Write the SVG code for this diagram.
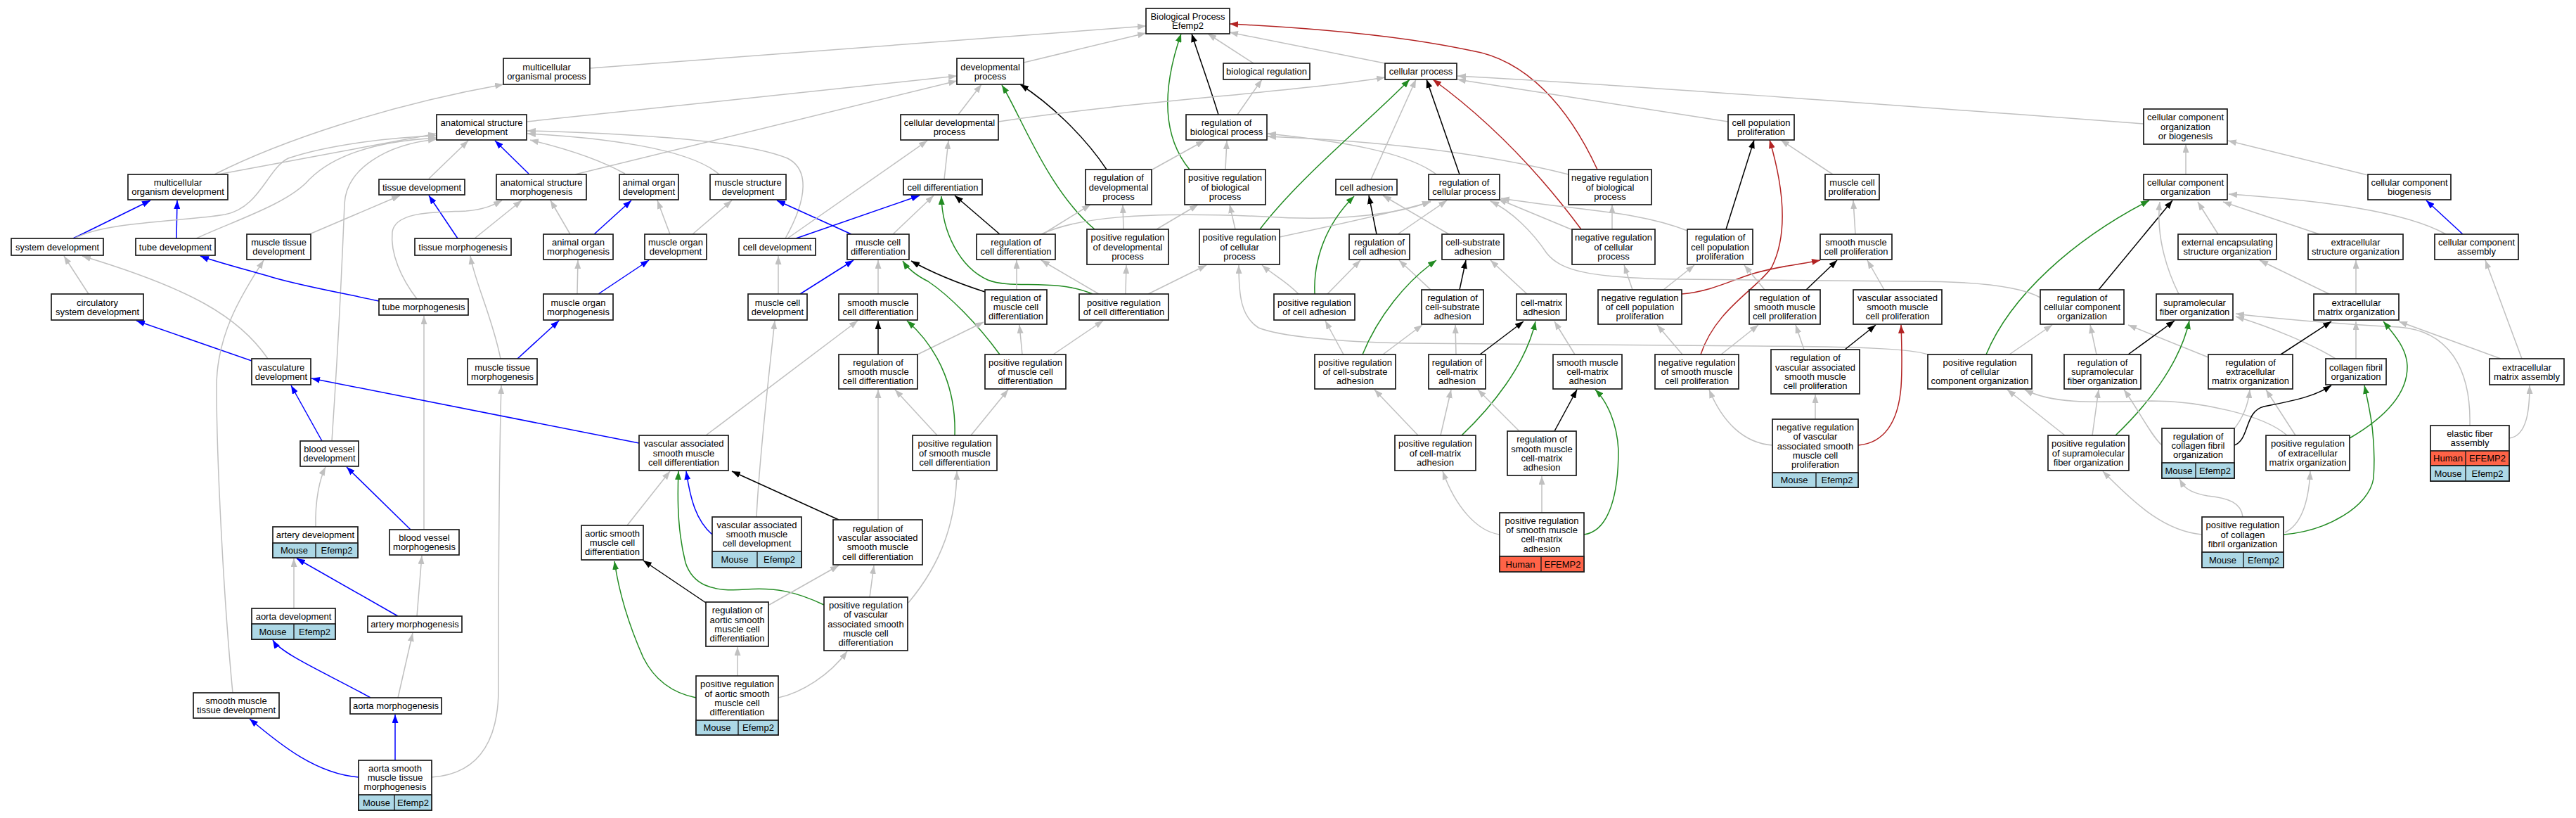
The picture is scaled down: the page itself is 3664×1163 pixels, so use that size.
<svg xmlns="http://www.w3.org/2000/svg" width="3664" height="1163" viewBox="0 0 3664 1163">
<defs>
<style>
.n rect{fill:#fff;stroke:#1a1a1a;stroke-width:1.7}
.n rect.m{fill:#add8e6}
.n rect.h{fill:#ff6347}
.n line{stroke:#1a1a1a;stroke-width:1.4}
text{font-family:"Liberation Sans",Arial,Helvetica,sans-serif;font-size:13px;text-anchor:middle;fill:#000}
#edges path{fill:none;stroke-width:1.5}
#edges .g{stroke:#c0c0c0;marker-end:url(#ag)}
#edges .b{stroke:#0000ff;marker-end:url(#ab)}
#edges .k{stroke:#000;marker-end:url(#ak)}
#edges .v{stroke:#228b22;marker-end:url(#av)}
#edges .r{stroke:#b22222;marker-end:url(#ar)}
</style>
<marker id="ag" viewBox="0 0 12 9" refX="12" refY="4.5" markerWidth="12" markerHeight="9" markerUnits="userSpaceOnUse" orient="auto"><path d="M0,0L12,4.5L0,9z" fill="#c0c0c0"/></marker>
<marker id="ab" viewBox="0 0 12 9" refX="12" refY="4.5" markerWidth="12" markerHeight="9" markerUnits="userSpaceOnUse" orient="auto"><path d="M0,0L12,4.5L0,9z" fill="#0000ff"/></marker>
<marker id="ak" viewBox="0 0 12 9" refX="12" refY="4.5" markerWidth="12" markerHeight="9" markerUnits="userSpaceOnUse" orient="auto"><path d="M0,0L12,4.5L0,9z" fill="#000"/></marker>
<marker id="av" viewBox="0 0 12 9" refX="12" refY="4.5" markerWidth="12" markerHeight="9" markerUnits="userSpaceOnUse" orient="auto"><path d="M0,0L12,4.5L0,9z" fill="#228b22"/></marker>
<marker id="ar" viewBox="0 0 12 9" refX="12" refY="4.5" markerWidth="12" markerHeight="9" markerUnits="userSpaceOnUse" orient="auto"><path d="M0,0L12,4.5L0,9z" fill="#b22222"/></marker>
</defs>
<rect width="3664" height="1163" fill="#fff"/>
<g id="edges">
<path class="g" d="M839,97 L1630,37"/>
<path class="g" d="M1456,89 L1630,47"/>
<path class="g" d="M1783,90 L1718,48"/>
<path class="k" d="M1733,163 C1720,120 1705,80 1695,48"/>
<path class="v" d="M1692,241 C1650,190 1655,120 1680,48"/>
<path class="r" d="M2272,241 C2230,150 2170,85 2093,72 C2000,52 1870,40 1749,34"/>
<path class="g" d="M1970,90 L1749,46"/>
<path class="g" d="M749,173 L1361,108"/>
<path class="g" d="M818,248 L1361,115"/>
<path class="g" d="M1363,163 L1396,120"/>
<path class="k" d="M1574,241 C1540,190 1490,145 1451,120"/>
<path class="v" d="M1557,326 C1490,270 1450,160 1425,121"/>
<path class="g" d="M1760,163 L1795,113"/>
<path class="g" d="M1420,173 C1600,145 1850,130 1970,110"/>
<path class="g" d="M2043,248 C2000,215 1900,200 1803,190"/>
<path class="g" d="M2231,248 C2100,215 1950,200 1803,194"/>
<path class="v" d="M1792,326 C1850,250 1950,170 2005,113"/>
<path class="g" d="M1950,255 L2014,113"/>
<path class="k" d="M2076,248 L2029,113"/>
<path class="r" d="M2249,326 C2200,260 2130,180 2038,113"/>
<path class="g" d="M3049,176 C2700,150 2300,120 2073,108"/>
<path class="g" d="M2458,173 L2073,113"/>
<path class="g" d="M3109,248 L3109,205"/>
<path class="g" d="M3368,249 L3169,200"/>
<path class="k" d="M2455,326 L2495,199"/>
<path class="r" d="M2419,504 C2440,440 2500,410 2520,380 C2545,330 2535,260 2517,199"/>
<path class="r" d="M2392,418 C2430,415 2460,400 2490,390 C2530,378 2560,376 2589,370"/>
<path class="g" d="M2607,248 L2533,199"/>
<path class="v" d="M2825,504 C2860,420 2950,340 3057,285"/>
<path class="k" d="M2985,412 L3090,285"/>
<path class="g" d="M3099,418 C3085,390 3066,340 3072,287"/>
<path class="g" d="M3155,333 L3126,287"/>
<path class="g" d="M3299,333 L3162,287"/>
<path class="g" d="M3479,333 C3420,300 3300,285 3170,276"/>
<path class="b" d="M3503,333 L3451,285"/>
<path class="g" d="M3313,418 L3214,370"/>
<path class="g" d="M3351,418 L3351,370"/>
<path class="g" d="M3587,510 L3535,370"/>
<path class="b" d="M104,339 L214,285"/>
<path class="b" d="M251,339 L252,285"/>
<path class="g" d="M305,248 C400,200 550,150 716,120"/>
<path class="g" d="M310,248 L621,190"/>
<path class="g" d="M106,339 C150,315 260,315 320,305 C370,295 380,240 410,225 C470,205 560,195 621,193"/>
<path class="g" d="M279,339 C330,315 410,290 440,255 C480,215 550,200 621,196"/>
<path class="g" d="M472,627 C482,480 488,340 490,290 C492,240 550,205 621,198"/>
<path class="g" d="M610,254 L666,200"/>
<path class="b" d="M752,247 L704,200"/>
<path class="g" d="M889,247 C850,225 800,210 754,199"/>
<path class="g" d="M1023,248 C980,210 850,195 750,190"/>
<path class="g" d="M1117,339 C1150,280 1150,240 1120,225 C1060,200 900,190 750,186"/>
<path class="b" d="M651,339 L610,278"/>
<path class="g" d="M440,333 L569,278"/>
<path class="g" d="M675,339 L742,285"/>
<path class="g" d="M811,333 L783,285"/>
<path class="g" d="M593,425 C570,395 555,360 558,330 C562,300 620,302 663,300 C690,298 705,290 714,285"/>
<path class="b" d="M845,333 L898,285"/>
<path class="g" d="M953,333 L935,285"/>
<path class="g" d="M985,333 L1041,285"/>
<path class="b" d="M1211,333 L1105,285"/>
<path class="b" d="M1132,339 L1308,278"/>
<path class="g" d="M1120,339 L1319,200"/>
<path class="g" d="M1270,333 L1328,278"/>
<path class="g" d="M1343,255 L1349,200"/>
<path class="k" d="M1422,333 L1358,278"/>
<path class="v" d="M1554,418 C1500,395 1440,412 1405,398 C1365,380 1340,330 1339,279"/>
<path class="g" d="M1481,333 C1530,310 1620,300 1800,308 C1900,315 1990,305 2035,286"/>
<path class="g" d="M1483,333 L1551,291"/>
<path class="g" d="M1598,326 L1597,291"/>
<path class="g" d="M1645,326 L1704,291"/>
<path class="g" d="M1757,326 L1749,291"/>
<path class="g" d="M1639,241 L1713,200"/>
<path class="g" d="M1743,241 L1745,200"/>
<path class="k" d="M1958,333 L1947,278"/>
<path class="v" d="M1870,418 C1868,370 1885,320 1926,279"/>
<path class="g" d="M2061,333 L1967,278"/>
<path class="g" d="M1988,333 L2058,285"/>
<path class="g" d="M1820,337 C1900,320 1990,300 2035,287"/>
<path class="g" d="M2237,327 L2131,283"/>
<path class="g" d="M2400,328 C2330,300 2250,300 2135,282"/>
<path class="g" d="M2902,423 C2870,405 2800,400 2720,400 L2387,397 C2260,395 2220,385 2200,360 C2180,330 2150,300 2120,286"/>
<path class="g" d="M2742,504 C2720,496 2650,493 2500,492 L2000,488 C1900,486 1820,478 1790,466 C1765,450 1762,420 1762,377"/>
<path class="g" d="M2293,326 L2293,291"/>
<path class="g" d="M2639,333 L2636,285"/>
<path class="k" d="M2569,412 L2613,370"/>
<path class="g" d="M2680,412 L2656,370"/>
<path class="g" d="M2366,412 L2410,377"/>
<path class="g" d="M2510,412 L2481,377"/>
<path class="g" d="M2322,412 L2310,377"/>
<path class="g" d="M2035,412 L1990,370"/>
<path class="g" d="M1888,418 L1935,370"/>
<path class="g" d="M1847,418 C1830,400 1810,390 1795,377"/>
<path class="v" d="M1938,504 C1960,450 2000,400 2043,370"/>
<path class="k" d="M2076,412 L2085,370"/>
<path class="g" d="M2172,418 L2120,370"/>
<path class="g" d="M1967,504 L2023,462"/>
<path class="g" d="M2071,504 L2070,462"/>
<path class="g" d="M1911,504 L1885,456"/>
<path class="k" d="M2105,504 L2167,457"/>
<path class="v" d="M2079,619 C2120,580 2170,520 2184,457"/>
<path class="g" d="M2240,504 L2211,457"/>
<path class="k" d="M2211,613 L2243,554"/>
<path class="v" d="M2253,760 C2290,755 2302,700 2302,640 C2300,600 2285,570 2269,554"/>
<path class="g" d="M2049,619 L2064,554"/>
<path class="g" d="M2161,613 L2102,554"/>
<path class="g" d="M2017,619 L1955,554"/>
<path class="g" d="M2133,760 C2100,755 2070,720 2052,670"/>
<path class="g" d="M2193,729 L2193,677"/>
<path class="g" d="M2521,633 C2480,630 2450,600 2431,554"/>
<path class="g" d="M2393,504 L2357,462"/>
<path class="g" d="M2448,504 L2501,462"/>
<path class="g" d="M2566,497 L2554,462"/>
<path class="k" d="M2624,497 L2668,462"/>
<path class="g" d="M2582,596 L2582,561"/>
<path class="r" d="M2643,633 C2680,630 2700,600 2704,550 C2706,520 2705,490 2704,462"/>
<path class="g" d="M2858,504 L2919,462"/>
<path class="g" d="M2982,504 L2973,462"/>
<path class="g" d="M3141,508 L3027,462"/>
<path class="k" d="M3027,504 L3093,456"/>
<path class="v" d="M3009,619 C3050,580 3100,520 3114,456"/>
<path class="g" d="M3322,510 C3290,490 3230,465 3180,450"/>
<path class="g" d="M3513,605 C3515,520 3480,470 3412,465 C3320,460 3250,455 3180,446"/>
<path class="k" d="M3244,504 L3316,457"/>
<path class="g" d="M3351,510 L3351,457"/>
<path class="v" d="M3342,623 C3390,595 3425,560 3424,520 C3423,495 3405,475 3390,457"/>
<path class="g" d="M3557,510 L3412,457"/>
<path class="g" d="M2976,619 L2985,554"/>
<path class="g" d="M3075,633 C3060,620 3040,580 3021,554"/>
<path class="g" d="M2937,619 L2855,554"/>
<path class="g" d="M3253,619 C3220,590 3130,570 3060,570 C2980,572 2920,575 2880,554"/>
<path class="g" d="M3176,612 C3190,595 3198,575 3200,554"/>
<path class="g" d="M3265,619 L3223,554"/>
<path class="k" d="M3178,633 C3200,625 3192,585 3220,578 C3260,570 3290,565 3316,548"/>
<path class="v" d="M3248,760 C3310,755 3370,720 3376,680 C3380,620 3370,580 3363,548"/>
<path class="g" d="M3569,623 C3595,620 3598,580 3598,548"/>
<path class="g" d="M3132,760 C3080,755 3040,720 2991,670"/>
<path class="g" d="M3190,735 C3188,715 3170,708 3140,705 C3110,700 3105,690 3100,681"/>
<path class="g" d="M3250,757 C3275,745 3284,710 3286,670"/>
<path class="g" d="M126,418 L91,364"/>
<path class="g" d="M381,510 C340,450 270,410 117,364"/>
<path class="b" d="M358,513 L194,456"/>
<path class="g" d="M331,985 C318,850 308,650 308,550 C308,470 350,410 375,370"/>
<path class="b" d="M539,428 C480,415 420,405 380,392 C330,378 300,370 285,364"/>
<path class="b" d="M851,418 L923,370"/>
<path class="g" d="M821,418 L822,370"/>
<path class="b" d="M736,510 L795,456"/>
<path class="g" d="M712,510 C700,450 675,400 669,364"/>
<path class="g" d="M603,753 L603,449"/>
<path class="g" d="M614,1105 C690,1100 709,1040 709,980 C709,800 710,650 713,548"/>
<path class="b" d="M458,627 L414,548"/>
<path class="b" d="M909,630 L443,538"/>
<path class="g" d="M449,749 C448,710 455,680 463,664"/>
<path class="b" d="M584,753 L493,664"/>
<path class="g" d="M418,865 L418,794"/>
<path class="b" d="M566,876 L422,794"/>
<path class="g" d="M593,876 L600,790"/>
<path class="b" d="M527,992 C470,960 400,930 388,910"/>
<path class="g" d="M566,992 L587,900"/>
<path class="b" d="M562,1081 L562,1016"/>
<path class="b" d="M510,1105 C450,1100 400,1060 355,1022"/>
<path class="b" d="M1138,418 L1214,370"/>
<path class="g" d="M1107,418 L1107,364"/>
<path class="g" d="M1249,418 L1249,370"/>
<path class="k" d="M1401,415 C1370,405 1330,390 1296,371"/>
<path class="g" d="M1446,412 L1446,370"/>
<path class="g" d="M1563,418 L1481,370"/>
<path class="g" d="M1601,418 L1602,377"/>
<path class="g" d="M1633,418 L1716,377"/>
<path class="v" d="M1422,504 C1390,460 1350,420 1320,400 C1300,390 1290,380 1284,371"/>
<path class="k" d="M1249,504 L1249,456"/>
<path class="g" d="M1305,504 L1399,458"/>
<path class="g" d="M1454,504 L1450,462"/>
<path class="g" d="M1498,504 L1569,456"/>
<path class="g" d="M1004,619 L1220,456"/>
<path class="g" d="M1333,619 L1273,554"/>
<path class="v" d="M1358,619 C1360,560 1340,500 1290,456"/>
<path class="g" d="M1381,619 L1434,554"/>
<path class="g" d="M1076,735 C1080,650 1095,520 1102,456"/>
<path class="b" d="M1013,760 C990,740 982,710 976,670"/>
<path class="v" d="M1172,860 C1130,840 1100,835 1060,838 C1010,842 985,830 975,800 C965,760 963,720 965,670"/>
<path class="g" d="M892,747 L953,670"/>
<path class="k" d="M1193,739 L1041,670"/>
<path class="g" d="M1249,739 L1249,554"/>
<path class="g" d="M1237,849 L1243,804"/>
<path class="g" d="M1292,857 C1340,800 1360,740 1361,670"/>
<path class="g" d="M1094,860 L1193,804"/>
<path class="k" d="M1004,857 L915,797"/>
<path class="g" d="M1049,961 L1049,920"/>
<path class="g" d="M1107,992 C1140,985 1180,960 1205,926"/>
<path class="v" d="M990,992 C955,985 930,965 915,935 C895,890 880,840 874,798"/>
</g>
<g id="n_BP" class="n"><rect x="1630" y="12" width="119" height="36"/><text x="1689.5" y="28"><tspan x="1689.5">Biological Process</tspan><tspan x="1689.5" dy="13.3">Efemp2</tspan></text></g>
<g id="n_MOP" class="n"><rect x="716" y="83" width="123" height="37"/><text x="777.5" y="99.5"><tspan x="777.5">multicellular</tspan><tspan x="777.5" dy="13.3">organismal process</tspan></text></g>
<g id="n_DP" class="n"><rect x="1361" y="83" width="95" height="37"/><text x="1408.5" y="99.5"><tspan x="1408.5">developmental</tspan><tspan x="1408.5" dy="13.3">process</tspan></text></g>
<g id="n_BR" class="n"><rect x="1740" y="90" width="123" height="23"/><text x="1801.5" y="106.1">biological regulation</text></g>
<g id="n_CP" class="n"><rect x="1970" y="90" width="102" height="23"/><text x="2021" y="106.1">cellular process</text></g>
<g id="n_ASD" class="n"><rect x="621" y="163" width="128" height="36"/><text x="685" y="179"><tspan x="685">anatomical structure</tspan><tspan x="685" dy="13.3">development</tspan></text></g>
<g id="n_CDP" class="n"><rect x="1281" y="163" width="139" height="36"/><text x="1350.5" y="179"><tspan x="1350.5">cellular developmental</tspan><tspan x="1350.5" dy="13.3">process</tspan></text></g>
<g id="n_RBP" class="n"><rect x="1687" y="163" width="115" height="36"/><text x="1744.5" y="179"><tspan x="1744.5">regulation of</tspan><tspan x="1744.5" dy="13.3">biological process</tspan></text></g>
<g id="n_CPP" class="n"><rect x="2458" y="163" width="94" height="36"/><text x="2505" y="179"><tspan x="2505">cell population</tspan><tspan x="2505" dy="13.3">proliferation</tspan></text></g>
<g id="n_CCOB" class="n"><rect x="3049" y="155" width="119" height="50"/><text x="3108.5" y="171.3"><tspan x="3108.5">cellular component</tspan><tspan x="3108.5" dy="13.3">organization</tspan><tspan x="3108.5" dy="13.3">or biogenesis</tspan></text></g>
<g id="n_MOD" class="n"><rect x="182" y="248" width="142" height="36"/><text x="253" y="264"><tspan x="253">multicellular</tspan><tspan x="253" dy="13.3">organism development</tspan></text></g>
<g id="n_TD" class="n"><rect x="539" y="255" width="122" height="22"/><text x="600" y="270.6">tissue development</text></g>
<g id="n_ASM" class="n"><rect x="706" y="248" width="128" height="36"/><text x="770" y="264"><tspan x="770">anatomical structure</tspan><tspan x="770" dy="13.3">morphogenesis</tspan></text></g>
<g id="n_AOD" class="n"><rect x="881" y="248" width="84" height="36"/><text x="923" y="264"><tspan x="923">animal organ</tspan><tspan x="923" dy="13.3">development</tspan></text></g>
<g id="n_MSD" class="n"><rect x="1010" y="248" width="108" height="36"/><text x="1064" y="264"><tspan x="1064">muscle structure</tspan><tspan x="1064" dy="13.3">development</tspan></text></g>
<g id="n_CD" class="n"><rect x="1285" y="255" width="112" height="22"/><text x="1341" y="270.6">cell differentiation</text></g>
<g id="n_RDP" class="n"><rect x="1544" y="241" width="94" height="50"/><text x="1591" y="257.3"><tspan x="1591">regulation of</tspan><tspan x="1591" dy="13.3">developmental</tspan><tspan x="1591" dy="13.3">process</tspan></text></g>
<g id="n_PRBP" class="n"><rect x="1685" y="241" width="115" height="50"/><text x="1742.5" y="257.3"><tspan x="1742.5">positive regulation</tspan><tspan x="1742.5" dy="13.3">of biological</tspan><tspan x="1742.5" dy="13.3">process</tspan></text></g>
<g id="n_CA" class="n"><rect x="1900" y="255" width="87" height="22"/><text x="1943.5" y="270.6">cell adhesion</text></g>
<g id="n_RCP" class="n"><rect x="2032" y="248" width="101" height="36"/><text x="2082.5" y="264"><tspan x="2082.5">regulation of</tspan><tspan x="2082.5" dy="13.3">cellular process</tspan></text></g>
<g id="n_NRBP" class="n"><rect x="2231" y="241" width="118" height="50"/><text x="2290" y="257.3"><tspan x="2290">negative regulation</tspan><tspan x="2290" dy="13.3">of biological</tspan><tspan x="2290" dy="13.3">process</tspan></text></g>
<g id="n_MCP" class="n"><rect x="2596" y="248" width="77" height="36"/><text x="2634.5" y="264"><tspan x="2634.5">muscle cell</tspan><tspan x="2634.5" dy="13.3">proliferation</tspan></text></g>
<g id="n_CCO" class="n"><rect x="3049" y="248" width="119" height="36"/><text x="3108.5" y="264"><tspan x="3108.5">cellular component</tspan><tspan x="3108.5" dy="13.3">organization</tspan></text></g>
<g id="n_CCB" class="n"><rect x="3368" y="248" width="118" height="36"/><text x="3427" y="264"><tspan x="3427">cellular component</tspan><tspan x="3427" dy="13.3">biogenesis</tspan></text></g>
<g id="n_SD" class="n"><rect x="16" y="339" width="131" height="24"/><text x="81.5" y="355.6">system development</text></g>
<g id="n_TubeD" class="n"><rect x="193" y="339" width="113" height="24"/><text x="249.5" y="355.6">tube development</text></g>
<g id="n_MTD" class="n"><rect x="351" y="333" width="91" height="36"/><text x="396.5" y="349"><tspan x="396.5">muscle tissue</tspan><tspan x="396.5" dy="13.3">development</tspan></text></g>
<g id="n_TM" class="n"><rect x="590" y="339" width="137" height="24"/><text x="658.5" y="355.6">tissue morphogenesis</text></g>
<g id="n_AOM" class="n"><rect x="773" y="333" width="99" height="36"/><text x="822.5" y="349"><tspan x="822.5">animal organ</tspan><tspan x="822.5" dy="13.3">morphogenesis</tspan></text></g>
<g id="n_MOrgD" class="n"><rect x="917" y="333" width="88" height="36"/><text x="961" y="349"><tspan x="961">muscle organ</tspan><tspan x="961" dy="13.3">development</tspan></text></g>
<g id="n_CellDev" class="n"><rect x="1051" y="339" width="109" height="24"/><text x="1105.5" y="355.6">cell development</text></g>
<g id="n_MCD" class="n"><rect x="1205" y="333" width="88" height="36"/><text x="1249" y="349"><tspan x="1249">muscle cell</tspan><tspan x="1249" dy="13.3">differentiation</tspan></text></g>
<g id="n_RCD" class="n"><rect x="1389" y="333" width="112" height="36"/><text x="1445" y="349"><tspan x="1445">regulation of</tspan><tspan x="1445" dy="13.3">cell differentiation</tspan></text></g>
<g id="n_PRDP" class="n"><rect x="1546" y="326" width="116" height="50"/><text x="1604" y="342.3"><tspan x="1604">positive regulation</tspan><tspan x="1604" dy="13.3">of developmental</tspan><tspan x="1604" dy="13.3">process</tspan></text></g>
<g id="n_PRCP" class="n"><rect x="1706" y="326" width="114" height="50"/><text x="1763" y="342.3"><tspan x="1763">positive regulation</tspan><tspan x="1763" dy="13.3">of cellular</tspan><tspan x="1763" dy="13.3">process</tspan></text></g>
<g id="n_RCA" class="n"><rect x="1919" y="333" width="86" height="36"/><text x="1962" y="349"><tspan x="1962">regulation of</tspan><tspan x="1962" dy="13.3">cell adhesion</tspan></text></g>
<g id="n_CSA" class="n"><rect x="2051" y="333" width="88" height="36"/><text x="2095" y="349"><tspan x="2095">cell-substrate</tspan><tspan x="2095" dy="13.3">adhesion</tspan></text></g>
<g id="n_NRCP" class="n"><rect x="2236" y="326" width="118" height="50"/><text x="2295" y="342.3"><tspan x="2295">negative regulation</tspan><tspan x="2295" dy="13.3">of cellular</tspan><tspan x="2295" dy="13.3">process</tspan></text></g>
<g id="n_RCPP" class="n"><rect x="2400" y="326" width="93" height="50"/><text x="2446.5" y="342.3"><tspan x="2446.5">regulation of</tspan><tspan x="2446.5" dy="13.3">cell population</tspan><tspan x="2446.5" dy="13.3">proliferation</tspan></text></g>
<g id="n_SMCP" class="n"><rect x="2589" y="333" width="102" height="36"/><text x="2640" y="349"><tspan x="2640">smooth muscle</tspan><tspan x="2640" dy="13.3">cell proliferation</tspan></text></g>
<g id="n_EESO" class="n"><rect x="3098" y="333" width="140" height="36"/><text x="3168" y="349"><tspan x="3168">external encapsulating</tspan><tspan x="3168" dy="13.3">structure organization</tspan></text></g>
<g id="n_ESO" class="n"><rect x="3283" y="333" width="135" height="36"/><text x="3350.5" y="349"><tspan x="3350.5">extracellular</tspan><tspan x="3350.5" dy="13.3">structure organization</tspan></text></g>
<g id="n_CCA" class="n"><rect x="3463" y="333" width="119" height="36"/><text x="3522.5" y="349"><tspan x="3522.5">cellular component</tspan><tspan x="3522.5" dy="13.3">assembly</tspan></text></g>
<g id="n_CSD" class="n"><rect x="73" y="418" width="131" height="37"/><text x="138.5" y="434.5"><tspan x="138.5">circulatory</tspan><tspan x="138.5" dy="13.3">system development</tspan></text></g>
<g id="n_TubeM" class="n"><rect x="539" y="425" width="127" height="23"/><text x="602.5" y="441.1">tube morphogenesis</text></g>
<g id="n_MOrgM" class="n"><rect x="773" y="418" width="99" height="37"/><text x="822.5" y="434.5"><tspan x="822.5">muscle organ</tspan><tspan x="822.5" dy="13.3">morphogenesis</tspan></text></g>
<g id="n_MCDev" class="n"><rect x="1064" y="418" width="84" height="37"/><text x="1106" y="434.5"><tspan x="1106">muscle cell</tspan><tspan x="1106" dy="13.3">development</tspan></text></g>
<g id="n_SMCD" class="n"><rect x="1193" y="418" width="112" height="37"/><text x="1249" y="434.5"><tspan x="1249">smooth muscle</tspan><tspan x="1249" dy="13.3">cell differentiation</tspan></text></g>
<g id="n_RMCD" class="n"><rect x="1401" y="412" width="88" height="49"/><text x="1445" y="427.8"><tspan x="1445">regulation of</tspan><tspan x="1445" dy="13.3">muscle cell</tspan><tspan x="1445" dy="13.3">differentiation</tspan></text></g>
<g id="n_PRCD" class="n"><rect x="1535" y="418" width="127" height="37"/><text x="1598.5" y="434.5"><tspan x="1598.5">positive regulation</tspan><tspan x="1598.5" dy="13.3">of cell differentiation</tspan></text></g>
<g id="n_PRCA" class="n"><rect x="1812" y="418" width="115" height="37"/><text x="1869.5" y="434.5"><tspan x="1869.5">positive regulation</tspan><tspan x="1869.5" dy="13.3">of cell adhesion</tspan></text></g>
<g id="n_RCSA" class="n"><rect x="2022" y="412" width="88" height="49"/><text x="2066" y="427.8"><tspan x="2066">regulation of</tspan><tspan x="2066" dy="13.3">cell-substrate</tspan><tspan x="2066" dy="13.3">adhesion</tspan></text></g>
<g id="n_CMA" class="n"><rect x="2157" y="418" width="71" height="37"/><text x="2192.5" y="434.5"><tspan x="2192.5">cell-matrix</tspan><tspan x="2192.5" dy="13.3">adhesion</tspan></text></g>
<g id="n_NRCPP" class="n"><rect x="2273" y="412" width="119" height="49"/><text x="2332.5" y="427.8"><tspan x="2332.5">negative regulation</tspan><tspan x="2332.5" dy="13.3">of cell population</tspan><tspan x="2332.5" dy="13.3">proliferation</tspan></text></g>
<g id="n_RSMCP" class="n"><rect x="2488" y="412" width="101" height="49"/><text x="2538.5" y="427.8"><tspan x="2538.5">regulation of</tspan><tspan x="2538.5" dy="13.3">smooth muscle</tspan><tspan x="2538.5" dy="13.3">cell proliferation</tspan></text></g>
<g id="n_VASMCP" class="n"><rect x="2636" y="412" width="126" height="49"/><text x="2699" y="427.8"><tspan x="2699">vascular associated</tspan><tspan x="2699" dy="13.3">smooth muscle</tspan><tspan x="2699" dy="13.3">cell proliferation</tspan></text></g>
<g id="n_RCCO" class="n"><rect x="2902" y="412" width="119" height="49"/><text x="2961.5" y="427.8"><tspan x="2961.5">regulation of</tspan><tspan x="2961.5" dy="13.3">cellular component</tspan><tspan x="2961.5" dy="13.3">organization</tspan></text></g>
<g id="n_SFO" class="n"><rect x="3067" y="418" width="109" height="37"/><text x="3121.5" y="434.5"><tspan x="3121.5">supramolecular</tspan><tspan x="3121.5" dy="13.3">fiber organization</tspan></text></g>
<g id="n_EMO" class="n"><rect x="3291" y="418" width="121" height="37"/><text x="3351.5" y="434.5"><tspan x="3351.5">extracellular</tspan><tspan x="3351.5" dy="13.3">matrix organization</tspan></text></g>
<g id="n_VD" class="n"><rect x="358" y="510" width="84" height="37"/><text x="400" y="526.5"><tspan x="400">vasculature</tspan><tspan x="400" dy="13.3">development</tspan></text></g>
<g id="n_MTM" class="n"><rect x="665" y="510" width="99" height="37"/><text x="714.5" y="526.5"><tspan x="714.5">muscle tissue</tspan><tspan x="714.5" dy="13.3">morphogenesis</tspan></text></g>
<g id="n_RSMCD" class="n"><rect x="1193" y="504" width="112" height="49"/><text x="1249" y="519.8"><tspan x="1249">regulation of</tspan><tspan x="1249" dy="13.3">smooth muscle</tspan><tspan x="1249" dy="13.3">cell differentiation</tspan></text></g>
<g id="n_PRMCD" class="n"><rect x="1401" y="504" width="115" height="49"/><text x="1458.5" y="519.8"><tspan x="1458.5">positive regulation</tspan><tspan x="1458.5" dy="13.3">of muscle cell</tspan><tspan x="1458.5" dy="13.3">differentiation</tspan></text></g>
<g id="n_PRCSA" class="n"><rect x="1870" y="504" width="115" height="49"/><text x="1927.5" y="519.8"><tspan x="1927.5">positive regulation</tspan><tspan x="1927.5" dy="13.3">of cell-substrate</tspan><tspan x="1927.5" dy="13.3">adhesion</tspan></text></g>
<g id="n_RCMA" class="n"><rect x="2032" y="504" width="81" height="49"/><text x="2072.5" y="519.8"><tspan x="2072.5">regulation of</tspan><tspan x="2072.5" dy="13.3">cell-matrix</tspan><tspan x="2072.5" dy="13.3">adhesion</tspan></text></g>
<g id="n_SMCMA" class="n"><rect x="2209" y="504" width="98" height="49"/><text x="2258" y="519.8"><tspan x="2258">smooth muscle</tspan><tspan x="2258" dy="13.3">cell-matrix</tspan><tspan x="2258" dy="13.3">adhesion</tspan></text></g>
<g id="n_NRSMCP" class="n"><rect x="2354" y="504" width="119" height="49"/><text x="2413.5" y="519.8"><tspan x="2413.5">negative regulation</tspan><tspan x="2413.5" dy="13.3">of smooth muscle</tspan><tspan x="2413.5" dy="13.3">cell proliferation</tspan></text></g>
<g id="n_RVASMCP" class="n"><rect x="2519" y="497" width="126" height="63"/><text x="2582" y="513.2"><tspan x="2582">regulation of</tspan><tspan x="2582" dy="13.3">vascular associated</tspan><tspan x="2582" dy="13.3">smooth muscle</tspan><tspan x="2582" dy="13.3">cell proliferation</tspan></text></g>
<g id="n_PRCCO" class="n"><rect x="2742" y="504" width="148" height="49"/><text x="2816" y="519.8"><tspan x="2816">positive regulation</tspan><tspan x="2816" dy="13.3">of cellular</tspan><tspan x="2816" dy="13.3">component organization</tspan></text></g>
<g id="n_RSFO" class="n"><rect x="2936" y="504" width="109" height="49"/><text x="2990.5" y="519.8"><tspan x="2990.5">regulation of</tspan><tspan x="2990.5" dy="13.3">supramolecular</tspan><tspan x="2990.5" dy="13.3">fiber organization</tspan></text></g>
<g id="n_REMO" class="n"><rect x="3141" y="504" width="120" height="49"/><text x="3201" y="519.8"><tspan x="3201">regulation of</tspan><tspan x="3201" dy="13.3">extracellular</tspan><tspan x="3201" dy="13.3">matrix organization</tspan></text></g>
<g id="n_CFO" class="n"><rect x="3308" y="510" width="86" height="37"/><text x="3351" y="526.5"><tspan x="3351">collagen fibril</tspan><tspan x="3351" dy="13.3">organization</tspan></text></g>
<g id="n_EMA" class="n"><rect x="3541" y="510" width="106" height="37"/><text x="3594" y="526.5"><tspan x="3594">extracellular</tspan><tspan x="3594" dy="13.3">matrix assembly</tspan></text></g>
<g id="n_BVD" class="n"><rect x="427" y="627" width="83" height="36"/><text x="468.5" y="643"><tspan x="468.5">blood vessel</tspan><tspan x="468.5" dy="13.3">development</tspan></text></g>
<g id="n_VASMCD" class="n"><rect x="909" y="619" width="127" height="50"/><text x="972.5" y="635.3"><tspan x="972.5">vascular associated</tspan><tspan x="972.5" dy="13.3">smooth muscle</tspan><tspan x="972.5" dy="13.3">cell differentiation</tspan></text></g>
<g id="n_PRSMCD" class="n"><rect x="1298" y="619" width="120" height="50"/><text x="1358" y="635.3"><tspan x="1358">positive regulation</tspan><tspan x="1358" dy="13.3">of smooth muscle</tspan><tspan x="1358" dy="13.3">cell differentiation</tspan></text></g>
<g id="n_PRCMA" class="n"><rect x="1984" y="619" width="115" height="50"/><text x="2041.5" y="635.3"><tspan x="2041.5">positive regulation</tspan><tspan x="2041.5" dy="13.3">of cell-matrix</tspan><tspan x="2041.5" dy="13.3">adhesion</tspan></text></g>
<g id="n_RSMCMA" class="n"><rect x="2144" y="613" width="98" height="63"/><text x="2193" y="629.2"><tspan x="2193">regulation of</tspan><tspan x="2193" dy="13.3">smooth muscle</tspan><tspan x="2193" dy="13.3">cell-matrix</tspan><tspan x="2193" dy="13.3">adhesion</tspan></text></g>
<g id="n_NRVASMCP" class="n"><rect x="2521" y="596" width="122" height="97"/><rect class="m" x="2521" y="672" width="122" height="21"/><line x1="2583" y1="672" x2="2583" y2="693"/><text x="2582" y="612"><tspan x="2582">negative regulation</tspan><tspan x="2582" dy="13.3">of vascular</tspan><tspan x="2582" dy="13.3">associated smooth</tspan><tspan x="2582" dy="13.3">muscle cell</tspan><tspan x="2582" dy="13.3">proliferation</tspan></text><text x="2552" y="687">Mouse</text><text x="2613" y="687">Efemp2</text></g>
<g id="n_PRSFO" class="n"><rect x="2913" y="619" width="115" height="50"/><text x="2970.5" y="635.3"><tspan x="2970.5">positive regulation</tspan><tspan x="2970.5" dy="13.3">of supramolecular</tspan><tspan x="2970.5" dy="13.3">fiber organization</tspan></text></g>
<g id="n_RCFO" class="n"><rect x="3075" y="609" width="103" height="71"/><rect class="m" x="3075" y="658" width="103" height="22"/><line x1="3123" y1="658" x2="3123" y2="680"/><text x="3126.5" y="624.8"><tspan x="3126.5">regulation of</tspan><tspan x="3126.5" dy="13.3">collagen fibril</tspan><tspan x="3126.5" dy="13.3">organization</tspan></text><text x="3099" y="673.5">Mouse</text><text x="3150.5" y="673.5">Efemp2</text></g>
<g id="n_PREMO" class="n"><rect x="3223" y="619" width="119" height="50"/><text x="3282.5" y="635.3"><tspan x="3282.5">positive regulation</tspan><tspan x="3282.5" dy="13.3">of extracellular</tspan><tspan x="3282.5" dy="13.3">matrix organization</tspan></text></g>
<g id="n_EFA" class="n"><rect x="3457" y="605" width="112" height="79"/><rect class="h" x="3457" y="641" width="112" height="21"/><rect class="m" x="3457" y="662" width="112" height="22"/><line x1="3507" y1="641" x2="3507" y2="684"/><text x="3513" y="621"><tspan x="3513">elastic fiber</tspan><tspan x="3513" dy="13.3">assembly</tspan></text><text x="3482" y="656">Human</text><text x="3538" y="656">EFEMP2</text><text x="3482" y="677.5">Mouse</text><text x="3538" y="677.5">Efemp2</text></g>
<g id="n_ArtD" class="n"><rect x="388" y="749" width="121" height="44"/><rect class="m" x="388" y="772" width="121" height="21"/><line x1="449" y1="772" x2="449" y2="793"/><text x="448.5" y="765.1">artery development</text><text x="418.5" y="787">Mouse</text><text x="479" y="787">Efemp2</text></g>
<g id="n_BVM" class="n"><rect x="554" y="753" width="99" height="36"/><text x="603.5" y="769"><tspan x="603.5">blood vessel</tspan><tspan x="603.5" dy="13.3">morphogenesis</tspan></text></g>
<g id="n_ASMCD" class="n"><rect x="827" y="747" width="88" height="49"/><text x="871" y="762.8"><tspan x="871">aortic smooth</tspan><tspan x="871" dy="13.3">muscle cell</tspan><tspan x="871" dy="13.3">differentiation</tspan></text></g>
<g id="n_VASMCDev" class="n"><rect x="1013" y="735" width="127" height="72"/><rect class="m" x="1013" y="784" width="127" height="23"/><line x1="1077" y1="784" x2="1077" y2="807"/><text x="1076.5" y="750.8"><tspan x="1076.5">vascular associated</tspan><tspan x="1076.5" dy="13.3">smooth muscle</tspan><tspan x="1076.5" dy="13.3">cell development</tspan></text><text x="1045" y="800">Mouse</text><text x="1108.5" y="800">Efemp2</text></g>
<g id="n_RVASMCD" class="n"><rect x="1185" y="739" width="127" height="64"/><text x="1248.5" y="755.7"><tspan x="1248.5">regulation of</tspan><tspan x="1248.5" dy="13.3">vascular associated</tspan><tspan x="1248.5" dy="13.3">smooth muscle</tspan><tspan x="1248.5" dy="13.3">cell differentiation</tspan></text></g>
<g id="n_PRSMCMA" class="n"><rect x="2133" y="729" width="120" height="84"/><rect class="h" x="2133" y="791" width="120" height="22"/><line x1="2192" y1="791" x2="2192" y2="813"/><text x="2193" y="744.7"><tspan x="2193">positive regulation</tspan><tspan x="2193" dy="13.3">of smooth muscle</tspan><tspan x="2193" dy="13.3">cell-matrix</tspan><tspan x="2193" dy="13.3">adhesion</tspan></text><text x="2162.5" y="806.5">Human</text><text x="2222.5" y="806.5">EFEMP2</text></g>
<g id="n_PRCFO" class="n"><rect x="3132" y="735" width="116" height="72"/><rect class="m" x="3132" y="785" width="116" height="22"/><line x1="3191" y1="785" x2="3191" y2="807"/><text x="3190" y="751.3"><tspan x="3190">positive regulation</tspan><tspan x="3190" dy="13.3">of collagen</tspan><tspan x="3190" dy="13.3">fibril organization</tspan></text><text x="3161.5" y="800.5">Mouse</text><text x="3219.5" y="800.5">Efemp2</text></g>
<g id="n_AortaD" class="n"><rect x="358" y="865" width="119" height="44"/><rect class="m" x="358" y="887" width="119" height="22"/><line x1="418" y1="887" x2="418" y2="909"/><text x="417.5" y="880.6">aorta development</text><text x="388" y="902.5">Mouse</text><text x="447.5" y="902.5">Efemp2</text></g>
<g id="n_ArtM" class="n"><rect x="523" y="876" width="134" height="23"/><text x="590" y="892.1">artery morphogenesis</text></g>
<g id="n_RASMCD" class="n"><rect x="1004" y="856" width="89" height="63"/><text x="1048.5" y="872.2"><tspan x="1048.5">regulation of</tspan><tspan x="1048.5" dy="13.3">aortic smooth</tspan><tspan x="1048.5" dy="13.3">muscle cell</tspan><tspan x="1048.5" dy="13.3">differentiation</tspan></text></g>
<g id="n_PRVASMCD" class="n"><rect x="1172" y="849" width="119" height="76"/><text x="1231.5" y="865"><tspan x="1231.5">positive regulation</tspan><tspan x="1231.5" dy="13.3">of vascular</tspan><tspan x="1231.5" dy="13.3">associated smooth</tspan><tspan x="1231.5" dy="13.3">muscle cell</tspan><tspan x="1231.5" dy="13.3">differentiation</tspan></text></g>
<g id="n_SMTD" class="n"><rect x="275" y="985" width="122" height="36"/><text x="336" y="1001"><tspan x="336">smooth muscle</tspan><tspan x="336" dy="13.3">tissue development</tspan></text></g>
<g id="n_AortaM" class="n"><rect x="498" y="992" width="130" height="23"/><text x="563" y="1008.1">aorta morphogenesis</text></g>
<g id="n_PRASMCD" class="n"><rect x="990" y="961" width="117" height="84"/><rect class="m" x="990" y="1024" width="117" height="21"/><line x1="1050" y1="1024" x2="1050" y2="1045"/><text x="1048.5" y="977.2"><tspan x="1048.5">positive regulation</tspan><tspan x="1048.5" dy="13.3">of aortic smooth</tspan><tspan x="1048.5" dy="13.3">muscle cell</tspan><tspan x="1048.5" dy="13.3">differentiation</tspan></text><text x="1020" y="1039">Mouse</text><text x="1078.5" y="1039">Efemp2</text></g>
<g id="n_ASMTM" class="n"><rect x="510" y="1081" width="104" height="71"/><rect class="m" x="510" y="1130" width="104" height="22"/><line x1="561" y1="1130" x2="561" y2="1152"/><text x="562" y="1096.8"><tspan x="562">aorta smooth</tspan><tspan x="562" dy="13.3">muscle tissue</tspan><tspan x="562" dy="13.3">morphogenesis</tspan></text><text x="535.5" y="1145.5">Mouse</text><text x="587.5" y="1145.5">Efemp2</text></g>
</svg>
